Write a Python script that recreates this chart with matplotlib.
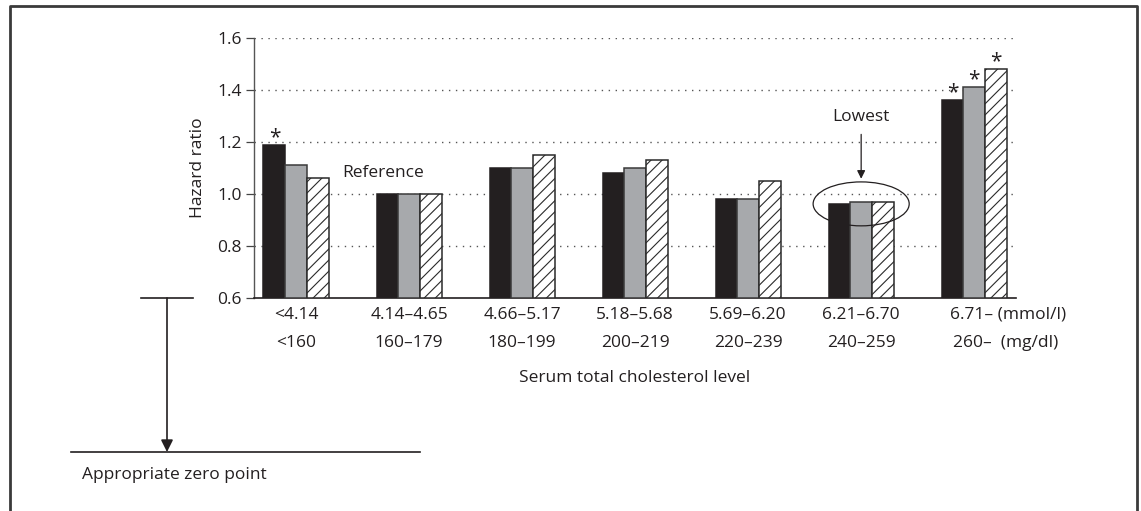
"""Hazard ratio by serum total cholesterol level, with zero-point note."""

import matplotlib

matplotlib.use("Agg")

import matplotlib.pyplot as plt
from matplotlib.lines import Line2D
from matplotlib.patches import Ellipse

plt.rcParams["font.family"] = ["Open Sans", "DejaVu Sans"]

# data
mmol_labels = ["<4.14", "4.14\u20134.65", "4.66\u20135.17", "5.18\u20135.68",
               "5.69\u20136.20", "6.21\u20136.70", "6.71\u2013"]
mgdl_labels = ["<160", "160\u2013179", "180\u2013199", "200\u2013219",
               "220\u2013239", "240\u2013259", "260\u2013"]
series_a = [1.19, 1.00, 1.10, 1.08, 0.98, 0.96, 1.36]   # black
series_b = [1.11, 1.00, 1.10, 1.10, 0.98, 0.97, 1.41]   # gray
series_c = [1.06, 1.00, 1.15, 1.13, 1.05, 0.97, 1.48]   # hatched
significant_a = [True, False, False, False, False, False, True]
significant_b = [False, False, False, False, False, False, True]
significant_c = [False, False, False, False, False, False, True]
y_ticks = [0.6, 0.8, 1.0, 1.2, 1.4, 1.6]

W, H = 1141, 511
fig = plt.figure(figsize=(W / 100, H / 100), dpi=100)
ax = fig.add_axes([254 / W, 1 - 298 / H, (1016 - 254) / W, (298 - 38) / H])

bar_w = 0.192
styles = [
    dict(color="#231f20", edgecolor="#231f20"),
    dict(color="#a7a9ac", edgecolor="#3a3a3a"),
    dict(color="white", edgecolor="#2a2a2a", hatch="///"),
]
plt.rcParams["hatch.linewidth"] = 0.8
all_series = [series_a, series_b, series_c]
all_sig = [significant_a, significant_b, significant_c]
for k, (vals, sig, st) in enumerate(zip(all_series, all_sig, styles)):
    xs = [i + (k - 1) * bar_w for i in range(len(vals))]
    heights = [v - 0.6 for v in vals]
    ax.bar(xs, heights, bottom=0.6, width=bar_w, linewidth=1.1, zorder=3, **st)
    for x, v, s in zip(xs, vals, sig):
        if s:
            ax.text(x, v - 0.012, "*", ha="center", va="bottom",
                    fontsize=15, color="#231f20", zorder=4)

ax.set_xlim(-0.372, 6.37)
ax.set_ylim(0.6, 1.6)
ax.set_yticks(y_ticks)
ax.set_yticklabels([f"{t:.1f}" for t in y_ticks], fontsize=12.5, color="#231f20")
ax.tick_params(axis="y", length=6, width=0.9, color="#444444", pad=3)
ax.set_xticks([])
for t in y_ticks[1:]:
    ax.axhline(t, color="#555555", linestyle=(0, (1, 4)), linewidth=1.0, zorder=1)
for side in ["top", "right"]:
    ax.spines[side].set_visible(False)
ax.spines["left"].set_color("#555555")
ax.spines["bottom"].set_color("#231f20")
ax.spines["left"].set_linewidth(1.0)
ax.spines["bottom"].set_linewidth(1.2)
ax.set_ylabel("Hazard ratio", fontsize=12.5, color="#231f20", labelpad=8)

# category labels in two rows
trans = ax.get_xaxis_transform()
for i, (m, g) in enumerate(zip(mmol_labels, mgdl_labels)):
    if i < len(mmol_labels) - 1:
        ax.text(i, -0.065, m, transform=trans, ha="center", va="center",
                fontsize=12.5, color="#231f20")
        ax.text(i, -0.172, g, transform=trans, ha="center", va="center",
                fontsize=12.5, color="#231f20")
    else:
        ax.text(i - 0.21, -0.065, m + " (mmol/l)", transform=trans, ha="left",
                va="center", fontsize=12.5, color="#231f20")
        ax.text(i - 0.19, -0.172, g + "  (mg/dl)", transform=trans, ha="left",
                va="center", fontsize=12.5, color="#231f20")
ax.text(0.5, -0.308, "Serum total cholesterol level", transform=ax.transAxes,
        ha="center", va="center", fontsize=12.5, color="#231f20")

# annotations
ax.text(0.77, 1.08, "Reference", ha="center", va="center", fontsize=12.5,
        color="#231f20")
ax.text(5.0, 1.296, "Lowest", ha="center", va="center", fontsize=12.5,
        color="#231f20")
ax.annotate("", xy=(5.0, 1.048), xytext=(5.0, 1.24),
            arrowprops=dict(arrowstyle="-|>", color="#231f20", lw=0.9,
                            mutation_scale=12))
ax.add_patch(Ellipse((5.0, 0.962), 0.85, 0.169, fill=False,
                     edgecolor="#231f20", linewidth=0.9, zorder=5))

# overlay in pixel units for the frame and the zero-point note
ov = fig.add_axes([0, 0, 1, 1], zorder=-1)
ov.set_xlim(0, W)
ov.set_ylim(H, 0)
ov.axis("off")
frame = dict(color="#3a3a3a", linewidth=2.0)
ov.add_line(Line2D([10, 10, 1137, 1137], [H + 5, 6, 6, H + 5], **frame))
ov.add_line(Line2D([141, 193], [298, 298], color="#231f20", linewidth=1.2))
ov.add_line(Line2D([71, 420], [452, 452], color="#231f20", linewidth=1.2))
ov.annotate("", xy=(167, 452), xytext=(167, 298),
            arrowprops=dict(arrowstyle="-|>", color="#231f20", lw=1.2,
                            mutation_scale=18, shrinkA=0, shrinkB=0))
ov.text(82, 475, "Appropriate zero point", ha="left", va="center",
        fontsize=12.5, color="#231f20")

fig.savefig("out.png", dpi=100)
